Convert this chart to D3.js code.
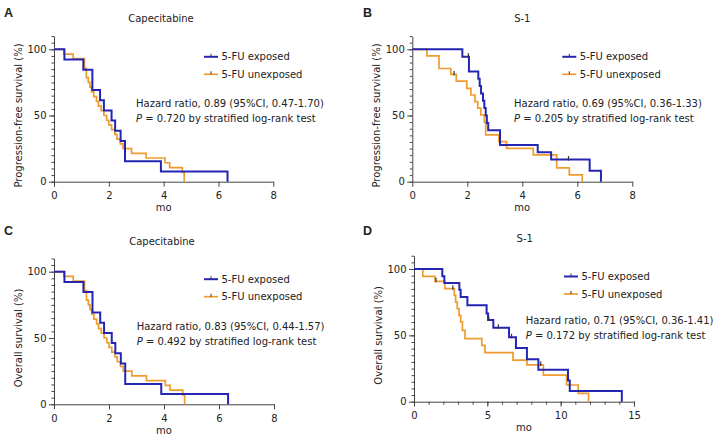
<!DOCTYPE html>
<html><head><meta charset="utf-8">
<script src="https://cdn.jsdelivr.net/npm/d3@7"></script>
<style>
body{margin:0;background:#fff}
svg{display:block}
text{font-family:"DejaVu Sans",Verdana,sans-serif;fill:#222}
</style>
</head><body>
<svg id="chart" width="718" height="440"></svg>
<script>
// ---------- data (time in months, survival in %) ----------
const capPfsExposed = [[0,100],[0.38,92.3],[1.07,84.6],[1.40,69.2],[1.68,61.5],[1.82,53.8],[2.10,46.2],[2.23,38.5],[2.43,30.8],[2.59,15.4],[3.90,7.7],[6.33,0]];
const capPfsUnexposed = [[0,100],[0.36,96.4],[0.70,92.9],[1.11,85.7],[1.18,78.6],[1.25,75.0],[1.31,71.4],[1.37,67.9],[1.45,64.3],[1.55,60.7],[1.62,57.1],[1.72,53.6],[1.82,50.0],[1.92,46.4],[2.00,42.9],[2.10,39.3],[2.22,35.7],[2.30,32.1],[2.42,28.6],[2.52,25.0],[2.83,21.4],[3.36,17.9],[4.05,14.3],[4.22,10.7],[4.68,7.1],[4.75,0]];
const capOsExposed = [[0,100],[0.38,92.3],[1.07,84.6],[1.40,69.2],[1.68,61.5],[1.82,53.8],[2.10,46.2],[2.23,38.5],[2.43,30.8],[2.59,15.4],[3.90,7.7],[6.33,0]];
const capOsUnexposed = [[0,100],[0.36,96.4],[0.70,92.9],[1.11,85.7],[1.18,78.6],[1.25,75.0],[1.31,71.4],[1.37,67.9],[1.45,64.3],[1.55,60.7],[1.62,57.1],[1.72,53.6],[1.82,50.0],[1.92,46.4],[2.00,42.9],[2.10,39.3],[2.22,35.7],[2.30,32.1],[2.42,28.6],[2.52,25.0],[2.83,21.4],[3.36,17.9],[4.05,14.3],[4.22,10.7],[4.68,7.1],[4.75,0]];
const s1PfsExposed = [[0,100],[1.82,94.4],[2.06,83.3],[2.40,77.8],[2.45,72.2],[2.50,66.7],[2.57,61.1],[2.62,55.6],[2.67,50.0],[2.71,44.4],[2.76,38.9],[3.19,27.8],[4.56,22.2],[5.05,16.7],[6.45,8.3],[6.86,0]];
const s1PfsUnexposed = [[0,100],[0.53,95.0],[0.97,85.5],[1.40,81.0],[1.60,76.0],[1.98,70.5],[2.13,65.5],[2.28,60.5],[2.38,55.5],[2.49,50.5],[2.62,45.0],[2.67,35.3],[3.15,30.2],[3.43,25.2],[4.40,20.2],[5.25,10.5],[5.71,5.1],[6.18,0]];
const s1OsExposed = [[0,100],[1.93,94.5],[2.07,89.4],[3.09,84.4],[3.18,78.9],[3.64,72.6],[4.95,66.5],[5.05,61.5],[5.41,55.8],[6.48,48.5],[6.95,40.4],[7.70,32.0],[8.48,24.0],[10.50,16.0],[10.62,8.0],[14.17,0]];
const s1OsUnexposed = [[0,100],[0.60,94.5],[1.43,90.7],[2.10,85.2],[2.75,80.1],[2.84,75.1],[2.95,70.1],[3.07,65.1],[3.18,60.1],[3.30,53.8],[3.48,47.5],[4.62,42.4],[4.84,37.0],[6.75,31.4],[7.70,27.7],[8.82,20.1],[10.40,12.6],[11.20,6.3],[11.90,0]];

// censoring marks (months)
const s1PfsExposedCensor = [2.04, 5.68];
const s1PfsUnexposedCensor = [1.52];
const s1OsExposedCensor = [5.10, 5.75, 6.65];
const s1OsUnexposedCensor = [1.50, 2.65, 8.64];

const monthTicks8 = [0,2,4,6,8];
const monthTicks15 = [0,5,10,15];
const monthMinor15 = d3.range(0,16,1);
const survTicks = [0,50,100];
const survMinor = d3.range(0,111,5);

const seriesNames = ["5-FU exposed","5-FU unexposed"];
const hrTexts = ["Hazard ratio, 0.89 (95%CI, 0.47-1.70)","Hazard ratio, 0.69 (95%CI, 0.36-1.33)","Hazard ratio, 0.83 (95%CI, 0.44-1.57)","Hazard ratio, 0.71 (95%CI, 0.36-1.41)"];
const pTexts = [" = 0.720 by stratified log-rank test"," = 0.205 by stratified log-rank test"," = 0.492 by stratified log-rank test"," = 0.172 by stratified log-rank test"];
const titles = ["Capecitabine","S-1","Capecitabine","S-1"];
const letters = ["A","B","C","D"];
const yLabels = ["Progression-free survival (%)","Progression-free survival (%)","Overall survival (%)","Overall survival (%)"];
const xLabel = "mo";

// ---------- styling / layout ----------
const BLUE = "#2525b3", ORANGE = "#ee9c30", AXIS = "#444";
const svg = d3.select("#chart");

const panels = [
  {i:0, x0:54,    x1:273.3, y0:181.7, y100:49.3,  xMax:8,  ticks:monthTicks8,  minor:null,
   exp:capPfsExposed, unexp:capPfsUnexposed, cE:[], cU:[], lx:4, ly:17, hrDx:82, hrDy:58, titleDx:107},
  {i:1, x0:412.3, x1:632.3, y0:181.7, y100:49.3,  xMax:8,  ticks:monthTicks8,  minor:null,
   exp:s1PfsExposed, unexp:s1PfsUnexposed, cE:s1PfsExposedCensor, cU:s1PfsUnexposedCensor, lx:363, ly:17, hrDx:101.7, hrDy:58, titleDx:110},
  {i:2, x0:54,    x1:274,   y0:404.3, y100:271.7, xMax:8,  ticks:monthTicks8,  minor:null,
   exp:capOsExposed, unexp:capOsUnexposed, cE:[], cU:[], lx:4, ly:235, hrDx:82.7, hrDy:58.3, titleDx:108},
  {i:3, x0:414,   x1:634,   y0:401.7, y100:269,   xMax:15, ticks:monthTicks15, minor:monthMinor15,
   exp:s1OsExposed, unexp:s1OsUnexposed, cE:s1OsExposedCensor, cU:s1OsUnexposedCensor, lx:363, ly:235, hrDx:111.7, hrDy:55, titleDx:110.7}
];

function levelAt(series, t){
  let s = series[0][1];
  for (const [tt, ss] of series){ if (tt <= t) s = ss; }
  return s;
}

panels.forEach(p => {
  const g = svg.append("g");
  const x = d3.scaleLinear().domain([0,p.xMax]).range([p.x0,p.x1]);
  const y = d3.scaleLinear().domain([0,100]).range([p.y0,p.y100]);
  const yTop = y(110);

  // letter
  g.append("text").attr("x",p.lx).attr("y",p.ly).text(letters[p.i])
    .style("font-family","'Liberation Sans',Arial,sans-serif").style("font-weight","bold").style("font-size","12.5px").attr("fill","#111");
  // title
  g.append("text").attr("x",p.x0+p.titleDx).attr("y",p.y100-27).attr("text-anchor","middle")
    .style("font-size","10px").text(titles[p.i]);

  // y axis
  const yAx = d3.scaleLinear().domain([0,110]).range([p.y0,yTop]);
  const yMinor = g.append("g").attr("transform",`translate(${p.x0},0)`)
    .call(d3.axisLeft(yAx).tickValues(survMinor).tickSize(2.5).tickFormat("").tickSizeOuter(0));
  yMinor.select(".domain").remove();
  const yAxis = g.append("g").attr("transform",`translate(${p.x0},0)`)
    .call(d3.axisLeft(yAx).tickValues(survTicks).tickSize(5).tickPadding(2.5).tickSizeOuter(0));
  yAxis.selectAll("text").style("font-size","10px").style("font-family","'DejaVu Sans',sans-serif").attr("fill","#222");

  // x axis
  if (p.minor){
    const xm = g.append("g").attr("transform",`translate(0,${p.y0})`)
      .call(d3.axisBottom(x).tickValues(p.minor).tickSize(3).tickFormat("").tickSizeOuter(0));
    xm.select(".domain").remove();
  }
  const xAxis = g.append("g").attr("transform",`translate(0,${p.y0})`)
    .call(d3.axisBottom(x).tickValues(p.ticks).tickSize(5).tickPadding(5.5).tickSizeOuter(0));
  xAxis.selectAll("text").style("font-size","10px").style("font-family","'DejaVu Sans',sans-serif").attr("fill","#222");
  g.selectAll(".domain, .tick line").attr("stroke",AXIS).attr("stroke-width",1);

  // axis labels
  g.append("text").attr("x",(p.x0+p.x1)/2).attr("y",p.y0+29.5).attr("text-anchor","middle")
    .style("font-size","10px").text(xLabel);
  g.append("text").attr("transform",`translate(${p.x0-32},${(p.y0+p.y100)/2}) rotate(-90)`)
    .attr("text-anchor","middle").style("font-size","10px").text(yLabels[p.i]);

  // curves
  const line = d3.line().x(d=>x(d[0])).y(d=>y(d[1])).curve(d3.curveStepAfter);
  g.append("path").datum(p.unexp).attr("d",line).attr("fill","none").attr("stroke",ORANGE).attr("stroke-width",1.7);
  g.append("path").datum(p.exp).attr("d",line).attr("fill","none").attr("stroke",BLUE).attr("stroke-width",2);

  // censor ticks
  const cens = [...p.cU.map(t=>({t, s:levelAt(p.unexp,t)})), ...p.cE.map(t=>({t, s:levelAt(p.exp,t)}))];
  g.selectAll("line.cens").data(cens).enter().append("line")
    .attr("x1",d=>x(d.t)).attr("x2",d=>x(d.t)).attr("y1",d=>y(d.s)-3.5).attr("y2",d=>y(d.s)+1)
    .attr("stroke","#333").attr("stroke-width",1.2);

  // legend
  const lgX = p.x0+150, lgY = p.y100+7.5;
  [BLUE, ORANGE].forEach((c,k) => {
    const yy = lgY + k*17.5;
    g.append("line").attr("x1",lgX).attr("x2",lgX+14).attr("y1",yy).attr("y2",yy).attr("stroke",c).attr("stroke-width",k?1.7:2);
    g.append("line").attr("x1",lgX+7).attr("x2",lgX+7).attr("y1",yy-3).attr("y2",yy).attr("stroke","#333").attr("stroke-width",1);
    g.append("text").attr("x",lgX+17.5).attr("y",yy+3.5).style("font-size","10px").text(seriesNames[k]);
  });

  // statistics text
  const hx = p.x0+p.hrDx, hy = p.y100+p.hrDy;
  g.append("text").attr("x",hx).attr("y",hy).style("font-size","10px").text(hrTexts[p.i]);
  const t2 = g.append("text").attr("x",hx).attr("y",hy+15).style("font-size","10px");
  t2.append("tspan").style("font-style","italic").text("P");
  t2.append("tspan").text(pTexts[p.i]);
});
</script>
</body></html>
